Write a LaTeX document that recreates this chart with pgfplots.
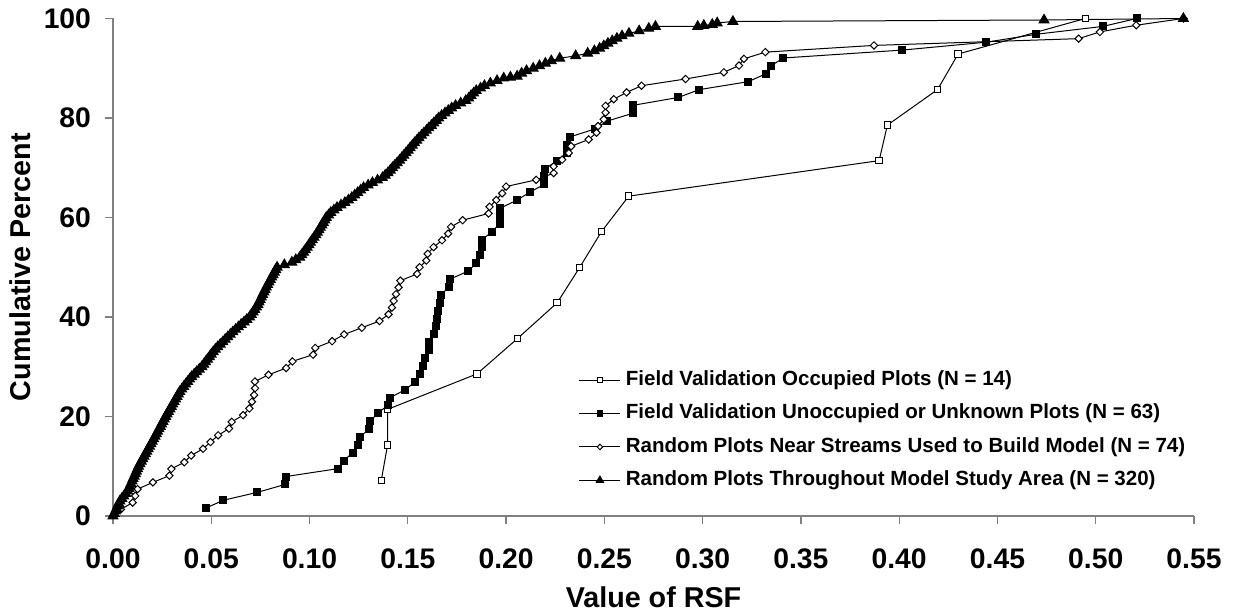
\documentclass[border=0pt]{standalone}
\usepackage{fontspec}
\setmainfont{Liberation Sans}
\usepackage{pgfplots}
\pgfplotsset{compat=1.18}
\definecolor{axgray}{RGB}{128,128,128}
\begin{document}
\begin{tikzpicture}
\useasboundingbox (-56.5bp,-49.5bp) rectangle (560.5bp,258bp);
\begin{axis}[
  at={(0,0)}, anchor=south west,
  scale only axis, width=540.5bp, height=248.75bp,
  xmin=0, xmax=0.55, ymin=0, ymax=100,
  axis x line*=bottom, axis y line*=left,
  axis line style={axgray, line width=0.6bp},
  xtick={0,0.05,...,0.551}, ytick={0,20,40,60,80,100},
  tick align=outside, major tick length=4bp,
  tick style={axgray, line width=0.6bp},
  /pgf/number format/assume math mode=true,
  xticklabel style={/pgf/number format/.cd, fixed, fixed zerofill, precision=2, /tikz/.cd, yshift=-9bp},
  yticklabel style={xshift=-3.5bp},
  tick label style={font=\fontsize{14.2}{16}\selectfont\bfseries},
  xlabel={Value of RSF}, ylabel={Cumulative Percent},
  label style={font=\fontsize{14.4}{17}\selectfont\bfseries},
  xlabel style={at={(axis description cs:0.5,-0.183)}, anchor=base},
  ylabel style={at={(axis description cs:-0.086,0.5)}, anchor=center, rotate=0},
  legend style={at={(axis description cs:0.431,0.293)}, anchor=north west,
    draw=none, fill=none, inner sep=0pt, outer sep=0pt,
    font=\fontsize{10.3}{12}\selectfont\bfseries,
    row sep=6.8bp, column sep=2.5bp,
    nodes={inner sep=0pt, text height=7.6bp, text depth=2.3bp}},
  legend cell align=left,
  legend image code/.code={\draw[mark repeat=2, mark phase=2, #1, every mark/.append style={scale=0.75}] plot coordinates {(0bp,0bp) (10.25bp,0bp) (20.5bp,0bp)};},
  every axis plot/.append style={black, line width=0.5bp},
]
% Field Validation Occupied Plots (N = 14)
\addplot[mark=square*, mark size=1.6bp, mark options={fill=white, draw=black, line width=0.5bp}] coordinates {
(0.1365,7.14) (0.1397,14.29) (0.1397,21.43) (0.1852,28.57) (0.2059,35.71)
(0.2260,42.86) (0.2375,50.00) (0.2485,57.14) (0.2624,64.29) (0.3898,71.43)
(0.3940,78.57) (0.4195,85.71) (0.4300,92.86) (0.4947,100.00)};
\addlegendentry{Field Validation Occupied Plots (N = 14)}
% Field Validation Unoccupied or Unknown Plots (N = 63)
\addplot[mark=square*, mark size=1.75bp, mark options={fill=black}] coordinates {
(0.0472,1.59) (0.0562,3.17) (0.0735,4.76) (0.0876,6.35) (0.0881,7.94)
(0.1145,9.52) (0.1173,11.11) (0.1219,12.70) (0.1244,14.29) (0.1258,15.87)
(0.1300,17.46) (0.1309,19.05) (0.1346,20.63) (0.1397,22.22) (0.1411,23.81)
(0.1487,25.40) (0.1538,26.98) (0.1563,28.57) (0.1575,30.16) (0.1589,31.75)
(0.1606,33.33) (0.1606,34.92) (0.1631,36.51) (0.1645,38.10) (0.1648,39.68)
(0.1652,41.27) (0.1665,42.86) (0.1670,44.44) (0.1708,46.03) (0.1716,47.62)
(0.1806,49.21) (0.1849,50.79) (0.1869,52.38) (0.1878,53.97) (0.1878,55.56)
(0.1929,57.14) (0.1967,58.73) (0.1967,60.32) (0.1971,61.90) (0.2056,63.49)
(0.2120,65.08) (0.2195,66.67) (0.2195,68.25) (0.2200,69.84) (0.2260,71.43)
(0.2310,73.02) (0.2310,74.60) (0.2324,76.19) (0.2451,77.78) (0.2514,79.37)
(0.2645,80.95) (0.2645,82.54) (0.2876,84.13) (0.2984,85.71) (0.3232,87.30)
(0.3322,88.89) (0.3348,90.48) (0.3410,92.06) (0.4016,93.65) (0.4444,95.24)
(0.4697,96.83) (0.5037,98.41) (0.5208,100.00)};
\addlegendentry{Field Validation Unoccupied or Unknown Plots (N = 63)}
% Random Plots Near Streams Used to Build Model (N = 74)
\addplot[mark=square*, mark size=1.3bp, mark options={rotate=45, fill=white, draw=black, line width=0.5bp}] coordinates {
(0.0040,1.35) (0.0100,2.70) (0.0113,4.05) (0.0125,5.41) (0.0203,6.76)
(0.0287,8.11) (0.0297,9.46) (0.0363,10.81) (0.0398,12.16) (0.0458,13.51)
(0.0496,14.86) (0.0535,16.22) (0.0590,17.57) (0.0604,18.92) (0.0662,20.27)
(0.0694,21.62) (0.0707,22.97) (0.0718,24.32) (0.0723,25.68) (0.0722,27.03)
(0.0791,28.38) (0.0881,29.73) (0.0913,31.08) (0.1018,32.43) (0.1029,33.78)
(0.1115,35.14) (0.1176,36.49) (0.1266,37.84) (0.1356,39.19) (0.1402,40.54)
(0.1419,41.89) (0.1428,43.24) (0.1440,44.59) (0.1453,45.95) (0.1462,47.30)
(0.1547,48.65) (0.1560,50.00) (0.1594,51.35) (0.1601,52.70) (0.1631,54.05)
(0.1674,55.41) (0.1705,56.76) (0.1720,58.11) (0.1779,59.46) (0.1911,60.81)
(0.1916,62.16) (0.1950,63.51) (0.1980,64.86) (0.2000,66.22) (0.2153,67.57)
(0.2242,68.92) (0.2242,70.27) (0.2285,71.62) (0.2319,72.97) (0.2331,74.32)
(0.2420,75.68) (0.2460,77.03) (0.2468,78.38) (0.2497,79.73) (0.2506,81.08)
(0.2506,82.43) (0.2548,83.78) (0.2613,85.14) (0.2689,86.49) (0.2913,87.84)
(0.3108,89.19) (0.3185,90.54) (0.3210,91.89) (0.3319,93.24) (0.3872,94.59)
(0.4913,95.95) (0.5021,97.30) (0.5206,98.65) (0.5446,100.00)};
\addlegendentry{Random Plots Near Streams Used to Build Model (N = 74)}
% Random Plots Throughout Model Study Area (N = 320)
\addplot[mark=triangle*, mark size=2.8bp, mark options={fill=black}] coordinates {
(0,0) (0.0006,0.5) (0.0012,1) (0.0018,1.5) (0.0023,2) (0.0029,2.5) (0.0035,3) (0.0045,3.5)
(0.0055,4) (0.0065,4.5) (0.0075,5) (0.0081,5.5) (0.0086,6) (0.0091,6.5) (0.0097,7) (0.0102,7.5)
(0.0108,8) (0.0114,8.5) (0.0119,9) (0.0125,9.5) (0.0130,10) (0.0137,10.5) (0.0144,11) (0.0151,11.5)
(0.0158,12) (0.0165,12.5) (0.0172,13) (0.0179,13.5) (0.0186,14) (0.0193,14.5) (0.0200,15) (0.0207,15.5)
(0.0214,16) (0.0221,16.5) (0.0227,17) (0.0234,17.5) (0.0241,18) (0.0247,18.5) (0.0254,19) (0.0261,19.5)
(0.0268,20) (0.0275,20.5) (0.0282,21) (0.0290,21.5) (0.0297,22) (0.0304,22.5) (0.0311,23) (0.0319,23.5)
(0.0326,24) (0.0333,24.5) (0.0340,25) (0.0350,25.5) (0.0360,26) (0.0370,26.5) (0.0380,27) (0.0390,27.5)
(0.0400,28) (0.0413,28.5) (0.0426,29) (0.0439,29.5) (0.0452,30) (0.0462,30.5) (0.0471,31) (0.0481,31.5)
(0.0491,32) (0.0500,32.5) (0.0510,33) (0.0521,33.5) (0.0533,34) (0.0546,34.5) (0.0559,35) (0.0571,35.5)
(0.0584,36) (0.0597,36.5) (0.0610,37) (0.0624,37.5) (0.0638,38) (0.0652,38.5) (0.0667,39) (0.0681,39.5)
(0.0695,40) (0.0704,40.5) (0.0713,41) (0.0721,41.5) (0.0730,42) (0.0737,42.5) (0.0743,43) (0.0749,43.5)
(0.0755,44) (0.0761,44.5) (0.0768,45) (0.0774,45.5) (0.0780,46) (0.0787,46.5) (0.0794,47) (0.0801,47.5)
(0.0808,48) (0.0814,48.5) (0.0821,49) (0.0828,49.5) (0.0835,50) (0.0872,50.5) (0.0910,51) (0.0930,51.5)
(0.0950,52) (0.0960,52.5) (0.0970,53) (0.0979,53.5) (0.0988,54) (0.0997,54.5) (0.1005,55) (0.1014,55.5)
(0.1023,56) (0.1032,56.5) (0.1040,57) (0.1048,57.5) (0.1055,58) (0.1063,58.5) (0.1070,59) (0.1078,59.5)
(0.1085,60) (0.1097,60.5) (0.1108,61) (0.1124,61.5) (0.1140,62) (0.1160,62.5) (0.1180,63) (0.1198,63.5)
(0.1215,64) (0.1230,64.5) (0.1245,65) (0.1260,65.5) (0.1275,66) (0.1298,66.5) (0.1320,67) (0.1346,67.5)
(0.1371,68) (0.1385,68.5) (0.1399,69) (0.1411,69.5) (0.1422,70) (0.1434,70.5) (0.1446,71) (0.1458,71.5)
(0.1469,72) (0.1480,72.5) (0.1491,73) (0.1502,73.5) (0.1512,74) (0.1523,74.5) (0.1534,75) (0.1546,75.5)
(0.1557,76) (0.1570,76.5) (0.1582,77) (0.1595,77.5) (0.1607,78) (0.1620,78.5) (0.1632,79) (0.1645,79.5)
(0.1657,80) (0.1672,80.5) (0.1689,81)
(0.1706,81.5) (0.1723,82) (0.1743,82.5) (0.1769,83) (0.1795,83.5) (0.1810,84) (0.1822,84.5)
(0.1835,85) (0.1848,85.5) (0.1870,86) (0.1890,86.5) (0.1920,87) (0.1954,87.5)
(0.1988,88) (0.2022,88.2) (0.2056,88.4) (0.2079,89) (0.2104,89.5) (0.2138,90)
(0.2170,90.5) (0.2200,91) (0.2230,91.5) (0.2273,92) (0.2354,92.5) (0.2415,93)
(0.2449,93.5) (0.2476,94) (0.2497,94.5) (0.2518,95) (0.2540,95.5) (0.2564,96)
(0.2590,96.5) (0.2625,97) (0.2677,97.5) (0.2726,98) (0.2760,98.4) (0.2975,98.4)
(0.3006,98.6) (0.3049,98.8) (0.3074,99.1) (0.3154,99.4) (0.4737,99.7) (0.5446,100)};
\addlegendentry{Random Plots Throughout Model Study Area (N = 320)}
\end{axis}
\end{tikzpicture}
\end{document}
